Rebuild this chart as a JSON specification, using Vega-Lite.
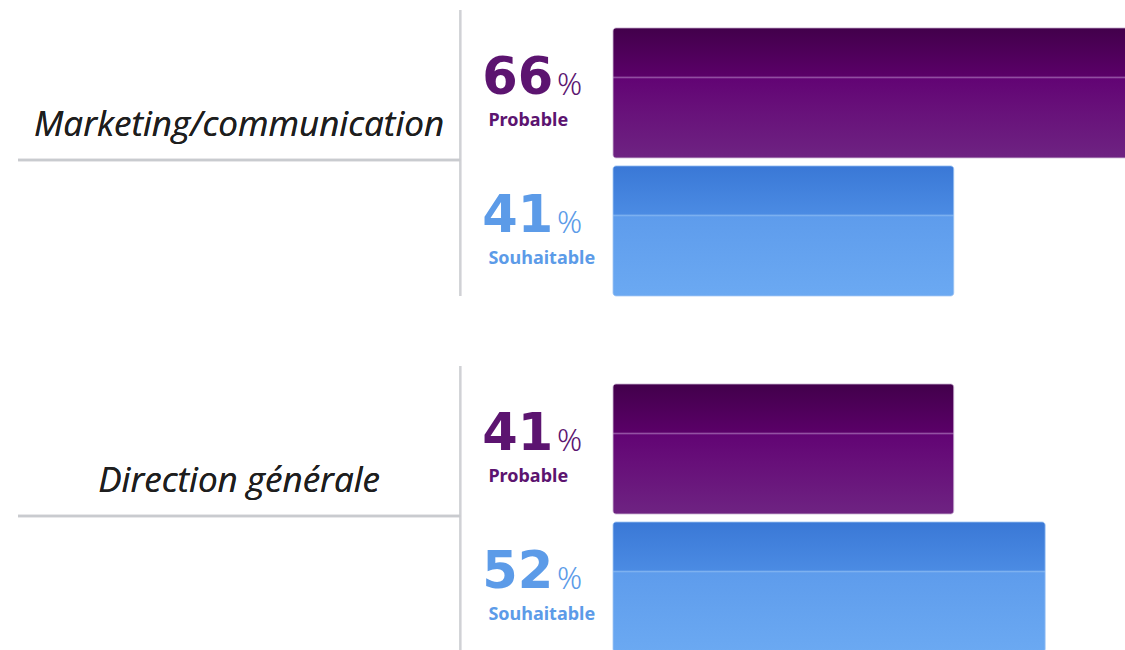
{
  "$schema": "https://vega.github.io/schema/vega-lite/v6.json",
  "width": 1125,
  "height": 650,
  "padding": 0,
  "autosize": {"type": "none"},
  "background": "white",
  "config": {"view": {"stroke": null}},
  "data": {
    "values": [
      {"group": "Marketing/communication", "type": "Probable", "value": 66},
      {"group": "Marketing/communication", "type": "Souhaitable", "value": 41},
      {"group": "Direction générale", "type": "Probable", "value": 41},
      {"group": "Direction générale", "type": "Souhaitable", "value": 52}
    ]
  },
  "encoding": {
    "y": {
      "field": "group",
      "type": "nominal",
      "sort": ["Marketing/communication", "Direction générale"],
      "axis": null,
      "scale": {"range": [10, 652], "paddingInner": 0.197, "paddingOuter": 0}
    }
  },
  "layer": [
    {
      "mark": {"type": "rect", "color": "#d0d1d5"},
      "encoding": {
        "x": {"datum": -18.5, "type": "quantitative", "axis": null, "scale": {"domain": [-73.77, 61.61], "nice": false, "zero": false}},
        "x2": {"datum": -18.25}
      }
    },
    {
      "mark": {"type": "rule", "color": "#c9cbcf", "strokeWidth": 2.5, "yOffset": 7},
      "encoding": {
        "x": {"datum": -71.6, "type": "quantitative", "axis": null, "scale": {"domain": [-73.77, 61.61], "nice": false, "zero": false}},
        "x2": {"datum": -18.4}
      }
    },
    {
      "mark": {"type": "text", "font": "Open Sans", "fontStyle": "italic", "fontSize": 35, "align": "center", "baseline": "alphabetic", "dy": -17, "color": "#1e1e1e"},
      "encoding": {
        "x": {"datum": -45.0, "type": "quantitative", "axis": null, "scale": {"domain": [-73.77, 61.61], "nice": false, "zero": false}},
        "text": {"field": "group"}
      }
    },
    {
      "transform": [{"filter": "datum.type === 'Probable'"}],
      "mark": {
        "type": "bar",
        "clip": true,
        "cornerRadius": 3,
        "stroke": "#c9b3d2",
        "strokeWidth": 0.8,
        "color": {
          "gradient": "linear", "x1": 0, "y1": 0, "x2": 0, "y2": 1,
          "stops": [
            {"offset": 0, "color": "#42004b"},
            {"offset": 0.37, "color": "#5a0068"},
            {"offset": 0.38, "color": "#9656a6"},
            {"offset": 0.392, "color": "#620474"},
            {"offset": 0.6, "color": "#670f79"},
            {"offset": 1, "color": "#6e2382"}
          ]
        }
      },
      "encoding": {
        "x": {"field": "value", "type": "quantitative", "axis": null, "scale": {"domain": [-73.77, 61.61], "nice": false, "zero": false}},
        "x2": {"datum": 0},
        "yOffset": {"field": "type", "type": "nominal", "scale": {"domain": ["Probable", "Souhaitable"], "paddingInner": 0.058, "paddingOuter": 0.065, "align": 1}}
      }
    },
    {
      "transform": [{"filter": "datum.type === 'Souhaitable'"}],
      "mark": {
        "type": "bar",
        "clip": true,
        "cornerRadius": 3,
        "stroke": "#9cc3f3",
        "strokeWidth": 0.8,
        "color": {
          "gradient": "linear", "x1": 0, "y1": 0, "x2": 0, "y2": 1,
          "stops": [
            {"offset": 0, "color": "#3a78d6"},
            {"offset": 0.37, "color": "#4b8be3"},
            {"offset": 0.38, "color": "#7fb2f0"},
            {"offset": 0.392, "color": "#5e9cec"},
            {"offset": 1, "color": "#6ba9f2"}
          ]
        }
      },
      "encoding": {
        "x": {"field": "value", "type": "quantitative", "axis": null, "scale": {"domain": [-73.77, 61.61], "nice": false, "zero": false}},
        "x2": {"datum": 0},
        "yOffset": {"field": "type", "type": "nominal", "scale": {"domain": ["Probable", "Souhaitable"], "paddingInner": 0.058, "paddingOuter": 0.065, "align": 1}}
      }
    },
    {
      "mark": {"type": "text", "font": "DejaVu Sans", "fontWeight": "bold", "fontSize": 51, "align": "right", "baseline": "alphabetic", "dy": 1},
      "encoding": {
        "x": {"datum": -7.2, "type": "quantitative", "axis": null, "scale": {"domain": [-73.77, 61.61], "nice": false, "zero": false}},
        "yOffset": {"field": "type", "type": "nominal", "scale": {"domain": ["Probable", "Souhaitable"], "paddingInner": 0.058, "paddingOuter": 0.065, "align": 1}},
        "text": {"field": "value"},
        "color": {"field": "type", "type": "nominal", "legend": null, "scale": {"domain": ["Probable", "Souhaitable"], "range": ["#5c1470", "#5c9be8"]}}
      }
    },
    {
      "mark": {"type": "text", "font": "Noto Sans", "fontWeight": 300, "fontSize": 31, "align": "left", "baseline": "alphabetic", "dy": 2},
      "encoding": {
        "x": {"datum": -6.74, "type": "quantitative", "axis": null, "scale": {"domain": [-73.77, 61.61], "nice": false, "zero": false}},
        "yOffset": {"field": "type", "type": "nominal", "scale": {"domain": ["Probable", "Souhaitable"], "paddingInner": 0.058, "paddingOuter": 0.065, "align": 1}},
        "text": {"value": "%"},
        "color": {"field": "type", "type": "nominal", "legend": null, "scale": {"domain": ["Probable", "Souhaitable"], "range": ["#5c1470", "#5c9be8"]}}
      }
    },
    {
      "mark": {"type": "text", "font": "Noto Sans", "fontWeight": "bold", "fontSize": 18, "align": "left", "baseline": "alphabetic", "dy": 33},
      "encoding": {
        "x": {"datum": -15.0, "type": "quantitative", "axis": null, "scale": {"domain": [-73.77, 61.61], "nice": false, "zero": false}},
        "yOffset": {"field": "type", "type": "nominal", "scale": {"domain": ["Probable", "Souhaitable"], "paddingInner": 0.058, "paddingOuter": 0.065, "align": 1}},
        "text": {"field": "type"},
        "color": {"field": "type", "type": "nominal", "legend": null, "scale": {"domain": ["Probable", "Souhaitable"], "range": ["#6d2a84", "#5f9de6"]}}
      }
    }
  ]
}
